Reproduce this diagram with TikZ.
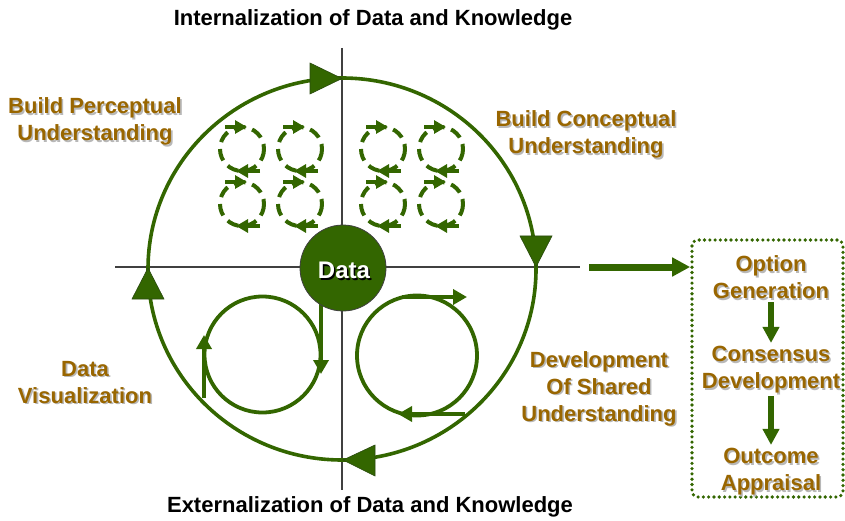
\documentclass[tikz,border=0pt]{standalone}
\usepackage{fontspec}
\setmainfont{Liberation Sans}
\usetikzlibrary{arrows.meta,calc}
\definecolor{dgreen}{HTML}{336600}
\definecolor{brownt}{HTML}{996600}
\definecolor{axisgray}{HTML}{404040}
\definecolor{shadowg}{HTML}{B8B8B8}
\definecolor{triedge}{HTML}{2A4A10}
\tikzset{
 axisline/.style={draw=axisgray, line width=2pt},
 bigring/.style={draw=dgreen, line width=3.6pt},
 tri/.style={fill=dgreen, draw=triedge, line width=0.6pt, line join=miter},
 dring/.style={draw=dgreen, line width=4pt, dash pattern=on 12pt off 7pt},
 darrow/.style={draw=dgreen, line width=4pt, -{Triangle[length=12pt,width=13pt]}},
 sring/.style={draw=dgreen, line width=3.8pt},
 sarrow/.style={draw=dgreen, line width=4.5pt, -{Triangle[length=14pt,width=15pt]}},
 boxarrow/.style={draw=dgreen, line width=5.5pt, -{Triangle[length=16pt,width=16pt]}, shorten <=3pt, shorten >=3pt},
 bigarrow/.style={draw=dgreen, line width=7pt, -{Triangle[length=18pt,width=18pt]}},
 lbl/.style={font=\fontsize{22}{27}\selectfont\bfseries, text=brownt, align=center, inner sep=0pt},
 lblshadow/.style={lbl, text=shadowg},
 titletext/.style={font=\fontsize{22}{27}\selectfont\bfseries, text=black, inner sep=0pt, anchor=base},
 dottedbox/.style={draw=dgreen, line width=3.6pt, dash pattern=on 0pt off 5.3pt, line cap=round, rounded corners=6pt, inner sep=0pt},
}
\newcommand{\shlabel}[3]{%
  \node[lblshadow] (#1sh) at ($(#2)+(1.6,1.6)$) {#3};
  \node[lbl] (#1) at (#2) {#3};
}
\newcommand{\dcircle}[2]{%
  \draw[dring] (#1,#2) circle[radius=22];
  \draw[darrow] (#1-17,#2-22) -- (#1+5,#2-22);
  \draw[darrow] (#1+18,#2+22) -- (#1-6,#2+22);
}
\begin{document}
\begin{tikzpicture}[x=1pt,y=-1pt]
\useasboundingbox (0,0) rectangle (845,521);
% axes
\coordinate (vtop) at (342,48);
\coordinate (vbot) at (342,490);
\coordinate (hl) at (115,267);
\coordinate (hr) at (580,267);
\draw[axisline] (vtop) -- (vbot);
\draw[axisline] (hl) -- (hr);
% big ring
\draw[bigring] (342,269) ellipse[x radius=194, y radius=191];
% triangles
\draw[tri] (310,63) -- (310,94) -- (342,78.5) -- cycle;
\draw[tri] (520,236) -- (552,236) -- (536,267) -- cycle;
\draw[tri] (375,445) -- (375,476) -- (343,460) -- cycle;
\draw[tri] (132,299) -- (164,299) -- (148,268) -- cycle;
% dashed circles
\dcircle{242}{149}
\dcircle{300}{149}
\dcircle{242}{204}
\dcircle{300}{204}
\dcircle{383}{149}
\dcircle{441}{149}
\dcircle{383}{204}
\dcircle{441}{204}
% bottom-left circle
\draw[sring] (262.5,354.5) circle[radius=58];
\coordinate (la1) at (204,398);
\coordinate (la2) at (204,335);
\draw[sarrow] (la1) -- (la2);
\coordinate (ra1) at (321,300);
\coordinate (ra2) at (321,374);
\draw[sarrow] (ra1) -- (ra2);
% bottom-right circle
\draw[sring] (417,355.5) circle[radius=60];
\coordinate (ta1) at (402,297);
\coordinate (ta2) at (467,297);
\draw[sarrow] (ta1) -- (ta2);
\coordinate (ba1) at (465,414);
\coordinate (ba2) at (398,414);
\draw[sarrow] (ba1) -- (ba2);
% data circle
\node[circle, fill=dgreen, draw=axisgray, line width=0.8pt, minimum size=86pt, inner sep=0pt] (data) at (343,268) {};
\node[font=\fontsize{24}{28}\selectfont\bfseries, text=black, anchor=base, inner sep=0pt] (datash) at (345.5,280.1) {Data};
\node[font=\fontsize{24}{28}\selectfont\bfseries, text=white, anchor=base, inner sep=0pt] (datatext) at (344,278.6) {Data};
% titles
\node[titletext] (intern) at (373,25.5) {Internalization of Data and Knowledge};
\node[titletext] (extern) at (370,512.5) {Externalization of Data and Knowledge};
% labels
\shlabel{bp}{95,121.6}{Build Perceptual\\Understanding}
\shlabel{bc}{586,134.6}{Build Conceptual\\Understanding}
\shlabel{dv}{85,382.4}{Data\\Visualization}
\shlabel{dsu}{599,388.6}{Development\\Of Shared\hspace*{0.5em}\\Understanding}
% box
\node[dottedbox, minimum width=151pt, minimum height=257pt] (box) at (767.5,368.5) {};
\coordinate (bastart) at (589,267);
\draw[bigarrow] (bastart) -- (bastart -| box.west);
\shlabel{opt}{771,277.6}{Option\\Generation}
\shlabel{cons}{771,369.6}{Consensus\\Development}
\shlabel{out}{771,471.6}{Outcome\\Appraisal}
\draw[boxarrow] (opt) -- (cons);
\draw[boxarrow] (cons) -- (out);
\end{tikzpicture}
\end{document}
